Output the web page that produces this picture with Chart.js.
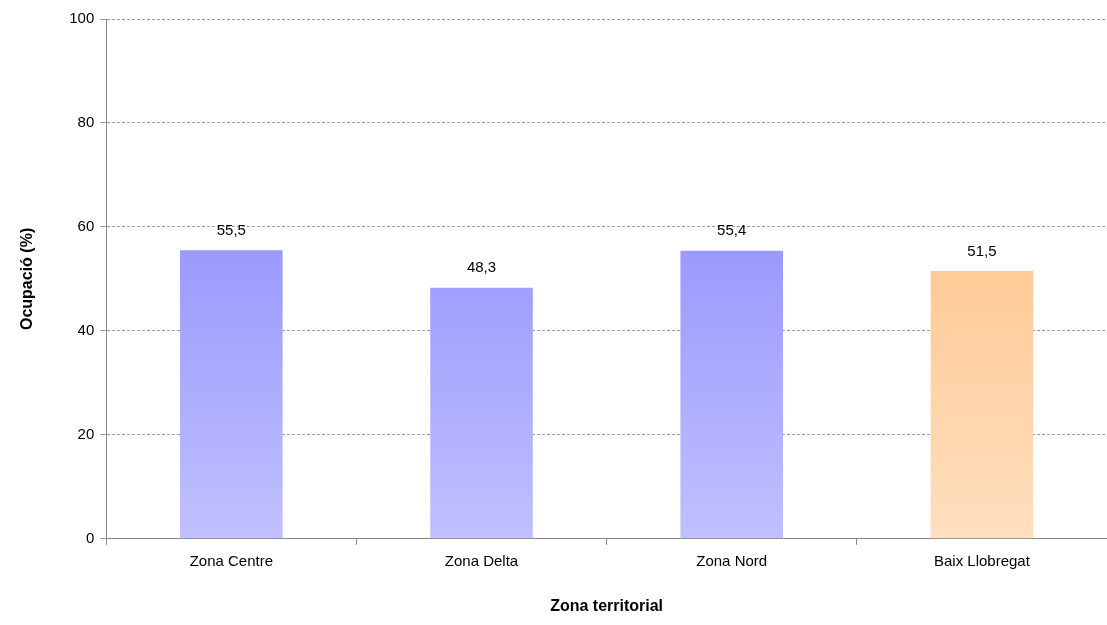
<!DOCTYPE html>
<html>
<head>
<meta charset="utf-8">
<script src="https://cdn.jsdelivr.net/npm/chart.js@4"></script>
<style>
  body { margin: 0; background: #fff; }
  #wrap { width: 1107px; height: 625px; }
</style>
</head>
<body>
<div id="wrap"><canvas id="chart"></canvas></div>
<script>
const zones = ['Zona Centre', 'Zona Delta', 'Zona Nord', 'Baix Llobregat'];
const occupancy = [55.5, 48.3, 55.4, 51.5];
const yTicks = [0, 20, 40, 60, 80, 100];

const FONT = "'Liberation Sans Narrow', 'Arial Narrow', 'Liberation Sans', sans-serif";

function barFill(ctx) {
  const chart = ctx.chart;
  const area = chart.chartArea;
  if (!area) return '#9999ff';
  const g = chart.ctx.createLinearGradient(0, area.top + 230, 0, area.bottom);
  if (ctx.dataIndex === 3) {
    g.addColorStop(0, '#ffc993');
    g.addColorStop(1, '#ffdfbf');
  } else {
    g.addColorStop(0, '#9a9afd');
    g.addColorStop(1, '#c0c0ff');
  }
  return g;
}

// value labels above bars
const valueLabels = {
  id: 'valueLabels',
  afterDatasetsDraw(chart) {
    const c = chart.ctx;
    const meta = chart.getDatasetMeta(0);
    c.save();
    c.font = '15px ' + FONT;
    c.fillStyle = '#000';
    c.textAlign = 'center';
    c.textBaseline = 'bottom';
    meta.data.forEach((bar, i) => {
      c.fillText(occupancy[i].toFixed(1).replace('.', ','), bar.x, bar.y - 12);
    });
    c.restore();
  }
};

new Chart(document.getElementById('chart'), {
  type: 'bar',
  data: {
    labels: zones,
    datasets: [{ data: occupancy, backgroundColor: barFill, barPercentage: 0.41, categoryPercentage: 1 }]
  },
  options: {
    responsive: true,
    maintainAspectRatio: false,
    animation: false,
    layout: { padding: { top: 19, right: 0, bottom: 5, left: 14 } },
    plugins: { legend: { display: false }, tooltip: { enabled: false } },
    scales: {
      x: {
        grid: { display: true, drawOnChartArea: false, offset: true, color: '#888', tickLength: 6 },
        border: { color: '#888' },
        ticks: { color: '#000', font: { family: FONT, size: 15 }, padding: 8 },
        title: { display: true, text: 'Zona territorial', color: '#000', font: { family: FONT, size: 16, weight: 'bold' }, padding: { top: 18 } }
      },
      y: {
        min: 0, max: 100,
        afterBuildTicks: axis => { axis.ticks = yTicks.map(v => ({ value: v })); },
        grid: { color: '#999', tickLength: 6 },
        border: { color: '#888', dash: [3, 2] },
        ticks: { color: '#000', font: { family: FONT, size: 15 }, padding: 6 },
        title: { display: true, text: 'Ocupació (%)', color: '#000', font: { family: FONT, size: 16, weight: 'bold' }, padding: { bottom: 26 } }
      }
    }
  },
  plugins: [valueLabels]
});
</script>
</body>
</html>
